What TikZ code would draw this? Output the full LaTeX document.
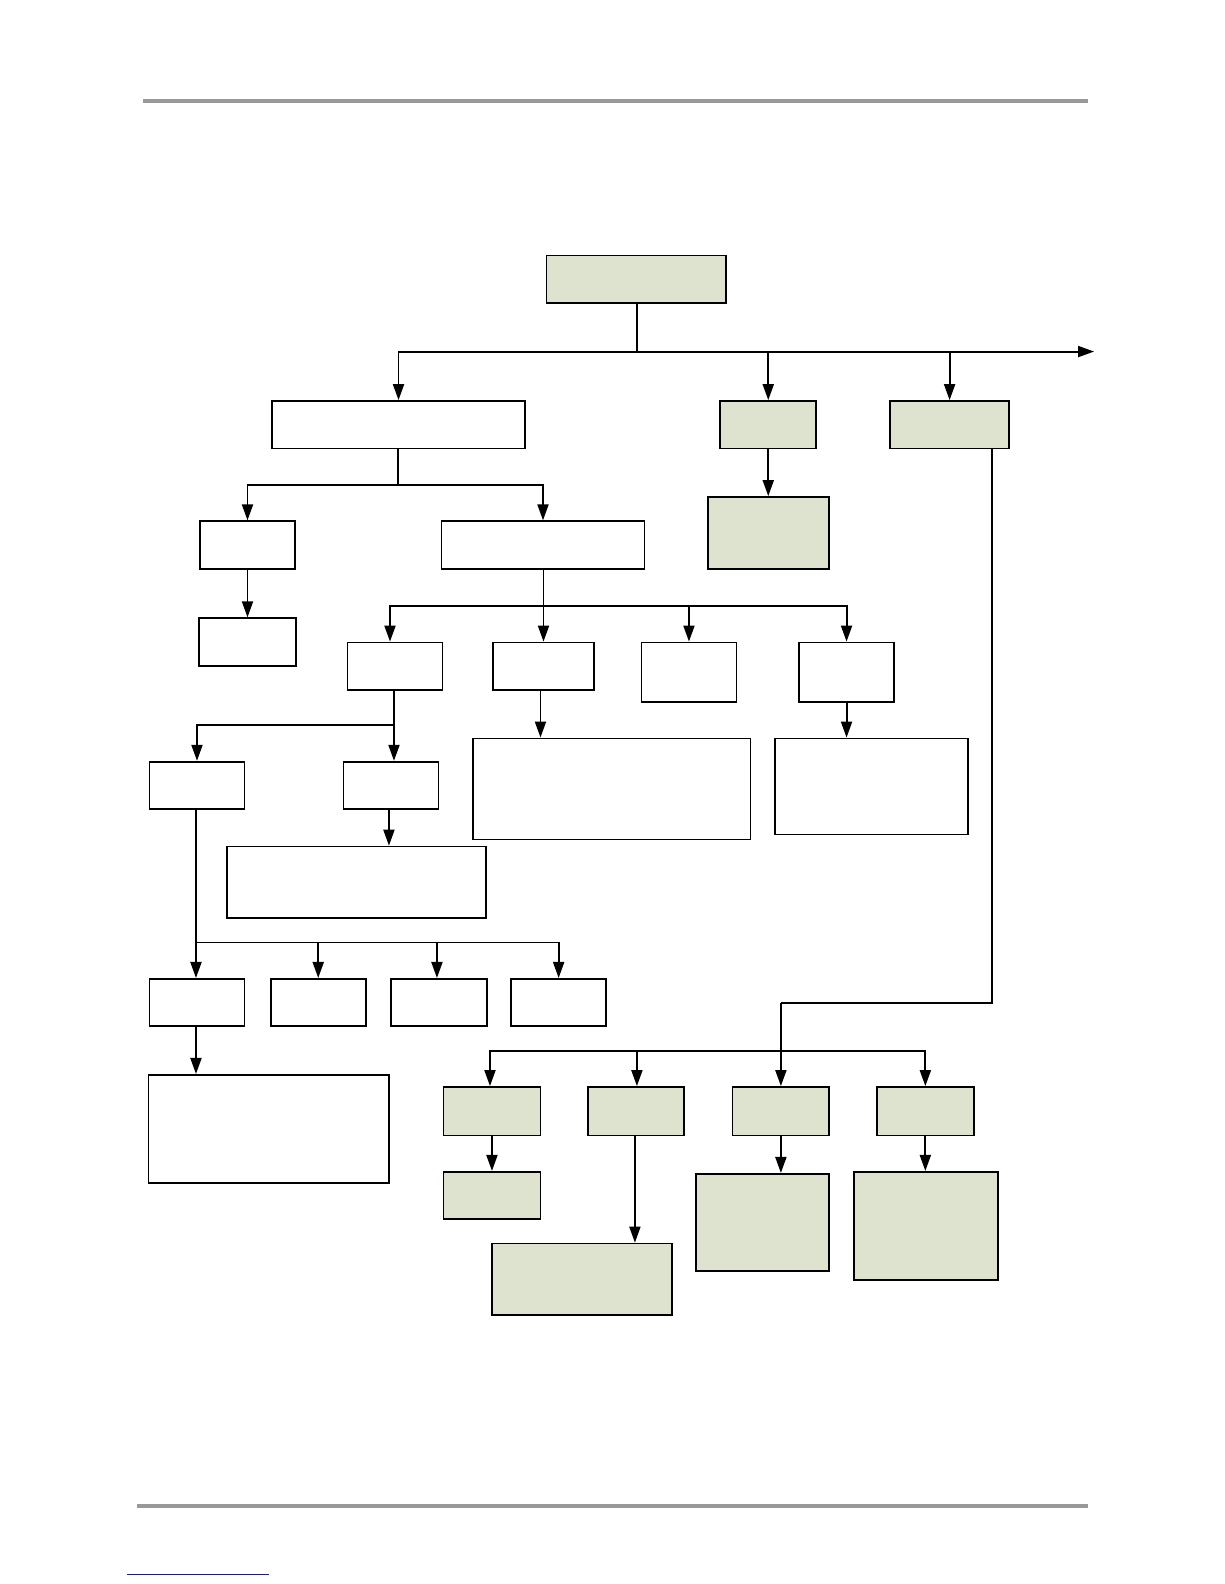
\documentclass[tikz,border=0pt]{standalone}
\usetikzlibrary{arrows.meta,fit}
\definecolor{boxgreen}{RGB}{221,227,206}
\definecolor{rulegray}{RGB}{152,152,152}
\definecolor{linkblue}{RGB}{30,30,130}
\begin{document}
\begin{tikzpicture}[x=1.0099pt,y=-1.0099pt,
  box/.style={draw=black,line width=1.8pt,inner sep=0pt,fill=white},
  gbox/.style={box,fill=boxgreen},
  conn/.style={line width=1.9pt},
  arr/.style={line width=1.9pt,-{Triangle[length=16pt,width=11pt]}}]
\useasboundingbox (0,0) rectangle (1212,1568);
% header / footer rules
\draw[rulegray,line width=4pt] (142,100) -- (1077,100);
\draw[rulegray,line width=4pt] (136,1491) -- (1077,1491);
\draw[linkblue,line width=1pt] (126,1559) -- (266,1559);
% boxes
\node[gbox,fit={(541,253)(719,300)}] (top) {};
\node[box,fit={(269,397)(520,444)}] (A) {};
\node[gbox,fit={(713,397)(808,444)}] (B) {};
\node[gbox,fit={(881,397)(999,444)}] (C) {};
\node[gbox,fit={(701,492)(821,563)}] (D) {};
\node[box,fit={(198,516)(292,563)}] (E) {};
\node[box,fit={(197,612)(293,659)}] (F) {};
\node[box,fit={(437,516)(638,563)}] (G) {};
\node[box,fit={(344,636)(438,683)}] (H) {};
\node[box,fit={(488,636)(588,683)}] (I) {};
\node[box,fit={(635,636)(729,695)}] (J) {};
\node[box,fit={(791,636)(885,695)}] (K) {};
\node[box,fit={(468,731)(743,831)}] (L) {};
\node[box,fit={(767,731)(958,826)}] (M) {};
\node[box,fit={(148,754)(242,801)}] (N) {};
\node[box,fit={(340,754)(434,801)}] (O) {};
\node[box,fit={(225,838)(481,909)}] (P) {};
\node[box,fit={(148,969)(242,1016)}] (Q) {};
\node[box,fit={(268,969)(362,1016)}] (R) {};
\node[box,fit={(387,969)(482,1016)}] (S) {};
\node[box,fit={(506,969)(600,1016)}] (T) {};
\node[box,fit={(147,1064)(385,1171)}] (U) {};
\node[gbox,fit={(439,1076)(535,1124)}] (V) {};
\node[gbox,fit={(582,1076)(677,1124)}] (W) {};
\node[gbox,fit={(725,1076)(821,1124)}] (X) {};
\node[gbox,fit={(868,1076)(964,1124)}] (Y) {};
\node[gbox,fit={(439,1160)(535,1207)}] (Z) {};
\node[gbox,fit={(487,1231)(665,1302)}] (AA) {};
\node[gbox,fit={(689,1162)(821,1258)}] (AB) {};
\node[gbox,fit={(845,1160)(988,1267)}] (AC) {};
% junction coordinates
\coordinate (j0) at (631,348);
\coordinate (rend) at (1083,348);
\coordinate (jA) at (394,480);
\coordinate (jG) at (538,600);
\coordinate (jH) at (390,718);
\coordinate (jN) at (194,933);
\coordinate (cx) at (982,993);
\coordinate (cy) at (773,993);
\coordinate (jB) at (773,1040);
% top level
\draw[conn] (top.south -| j0) -- (j0);
\draw[arr] (j0) -- (rend);
\draw[arr] (j0) -| (A.north);
\draw[arr] (j0) -| (B.north);
\draw[arr] (j0) -| (C.north);
\draw[arr] (B.south) -- (B.south |- D.north);
% A branch
\draw[conn] (A.south -| jA) -- (jA);
\draw[arr] (jA) -| (E.north);
\draw[arr] (jA) -| (G.north);
\draw[arr] (E.south) -- (F.north);
% G branch
\draw[conn] (G.south -| jG) -- (jG);
\draw[arr] (jG) -| ([xshift=-5pt]H.north);
\draw[arr] (jG) -- (I.north -| jG);
\draw[arr] (jG) -| (J.north);
\draw[arr] (jG) -| (K.north);
\draw[arr] ([xshift=-3pt]I.south) -- ([xshift=-3pt]I.south |- L.north);
\draw[arr] (K.south) -- (K.south |- M.north);
% H branch
\draw[conn] (H.south -| jH) -- (jH);
\draw[arr] (jH) -| (N.north);
\draw[arr] (jH) -- (O.north -| jH);
\draw[arr] ([xshift=-2pt]O.south) -- ([xshift=-2pt]O.south |- P.north);
% N branch
\draw[conn] (N.south -| jN) -- (jN);
\draw[arr] (jN) -- (Q.north -| jN);
\draw[arr] (jN) -| (R.north);
\draw[arr] (jN) -| ([xshift=-2pt]S.north);
\draw[arr] (jN) -| (T.north);
\draw[arr] (Q.south -| jN) -- (U.north -| jN);
% C branch
\draw[conn] (C.south -| cx) -- (cx) -- (cy);
\draw[arr] (cy) -- (X.north -| cy);
\draw[arr] (jB) -| ([xshift=-2pt]V.north);
\draw[arr] (jB) -| ([xshift=1pt]W.north);
\draw[arr] (jB) -| (Y.north);
\draw[arr] (V.south) -- (V.south |- Z.north);
\draw[arr] ([xshift=-1pt]W.south) -- ([xshift=-1pt]W.south |- AA.north);
\draw[arr] (X.south) -- (X.south |- AB.north);
\draw[arr] (Y.south) -- (Y.south |- AC.north);
\end{tikzpicture}
\end{document}
